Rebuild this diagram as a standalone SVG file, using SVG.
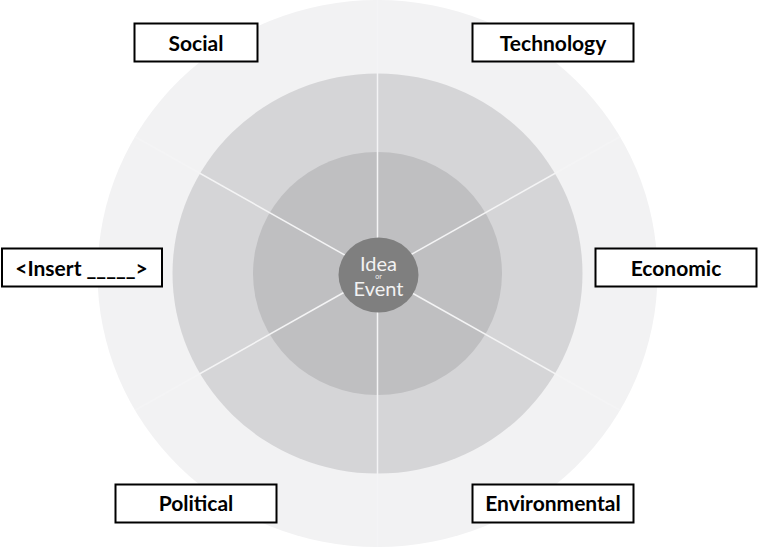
<svg xmlns="http://www.w3.org/2000/svg" width="758" height="550" viewBox="0 0 758 550">
  <style>
    .ring0 { fill: #f2f2f3; }
    .ring1 { fill: #d5d5d7; }
    .ring2 { fill: #bfbfc1; }
    .hub { fill: #7f7f7f; }
    .spoke { stroke: #f4f4f5; stroke-width: 1.5; fill: none; }
    .box { fill: #ffffff; stroke: #000000; stroke-width: 2; }
    .label { font-family: Lato, "Liberation Sans", sans-serif; font-weight: 700; font-size: 21px; fill: #000000; text-anchor: middle; }
    .hubtext { font-family: Lato, "Liberation Sans", sans-serif; fill: #f2f2f2; text-anchor: middle; }
  </style>

  <rect width="758" height="550" fill="#ffffff"/>

  <!-- concentric rings -->
  <g id="rings">
    <ellipse class="ring0" cx="377.5" cy="273.5" rx="280" ry="273.5"/>
    <ellipse class="ring1" cx="377.5" cy="273.5" rx="205" ry="200"/>
    <ellipse class="ring2" cx="377.5" cy="273.5" rx="124.5" ry="121.5"/>
  </g>

  <!-- six spokes dividing the rings -->
  <g id="connectors">
    <line class="spoke" x1="377.5" y1="273.5" x2="377.5" y2="0"/>
    <line class="spoke" x1="377.5" y1="273.5" x2="377.5" y2="547"/>
    <line class="spoke" x1="377.5" y1="273.5" x2="620" y2="136.75"/>
    <line class="spoke" x1="377.5" y1="273.5" x2="135" y2="136.75"/>
    <line class="spoke" x1="377.5" y1="273.5" x2="620" y2="410.25"/>
    <line class="spoke" x1="377.5" y1="273.5" x2="135" y2="410.25"/>
  </g>

  <g id="hub">
    <ellipse class="hub" cx="378.5" cy="275" rx="40" ry="37.5"/>
    <text class="hubtext" x="378.5" y="270.5" font-size="20">Idea</text>
    <text class="hubtext" x="378.5" y="279" font-size="7">or</text>
    <text class="hubtext" x="378.5" y="295.5" font-size="20">Event</text>
  </g>

  <g id="social">
    <rect class="box" x="134.5" y="23.5" width="123" height="38"/>
    <text class="label" x="196" y="50.5">Social</text>
  </g>

  <g id="technology">
    <rect class="box" x="472.5" y="23.5" width="161" height="38"/>
    <text class="label" x="553" y="50.5">Technology</text>
  </g>

  <g id="insert">
    <rect class="box" x="2" y="248.5" width="160" height="38"/>
    <text class="label" x="81.5" y="275.5">&lt;Insert _____&gt;</text>
  </g>

  <g id="economic">
    <rect class="box" x="595.5" y="248.5" width="161" height="38"/>
    <text class="label" x="676" y="275.5">Economic</text>
  </g>

  <g id="political">
    <rect class="box" x="115.5" y="484.5" width="161" height="38"/>
    <text class="label" x="196" y="511">Political</text>
  </g>

  <g id="environmental">
    <rect class="box" x="472.5" y="484.5" width="161" height="38"/>
    <text class="label" x="553" y="511">Environmental</text>
  </g>
</svg>
